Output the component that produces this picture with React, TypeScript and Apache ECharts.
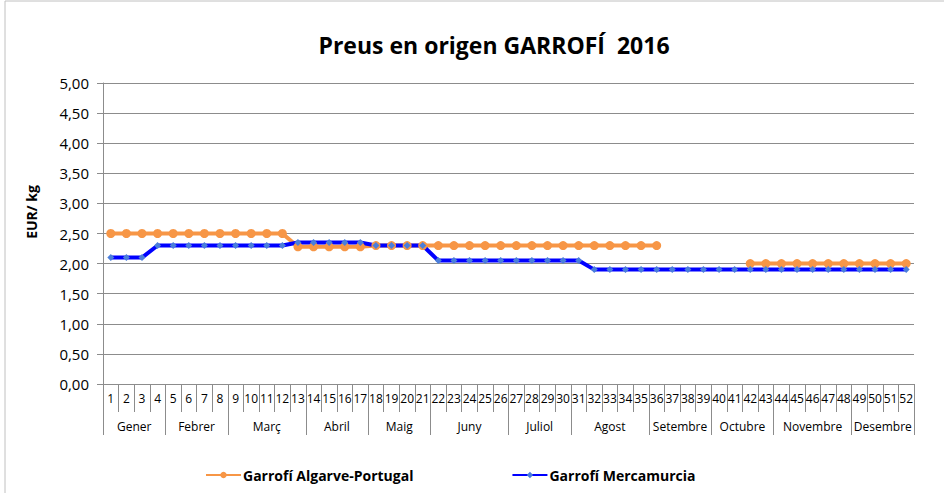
import React, { useEffect, useRef } from "react";
import * as echarts from "echarts";

const weeks = ["1","2","3","4","5","6","7","8","9","10","11","12","13","14","15","16","17","18","19","20","21","22","23","24","25","26","27","28","29","30","31","32","33","34","35","36","37","38","39","40","41","42","43","44","45","46","47","48","49","50","51","52"];
const months = ["Gener","Febrer","Març","Abril","Maig","Juny","Juliol","Agost","Setembre","Octubre","Novembre","Desembre"];
const monthWeekCounts = [4,4,5,4,4,5,4,5,4,4,5,4];
const yTicks = [0,0.5,1,1.5,2,2.5,3,3.5,4,4.5,5];

const algarve: (number | null)[] = [
  2.5,2.5,2.5,2.5,2.5,2.5,2.5,2.5,2.5,2.5,2.5,2.5,
  2.28,2.28,2.28,2.28,2.28,
  2.3,2.3,2.3,2.3,2.3,2.3,2.3,2.3,2.3,2.3,2.3,2.3,2.3,2.3,2.3,2.3,2.3,2.3,2.3,
  null,null,null,null,null,
  2.0,2.0,2.0,2.0,2.0,2.0,2.0,2.0,2.0,2.0,2.0,
];
const mercamurcia: number[] = [
  2.1,2.1,2.1,
  2.3,2.3,2.3,2.3,2.3,2.3,2.3,2.3,2.3,
  2.35,2.35,2.35,2.35,2.35,
  2.3,2.3,2.3,2.3,
  2.05,2.05,2.05,2.05,2.05,2.05,2.05,2.05,2.05,2.05,
  1.9,1.9,1.9,1.9,1.9,1.9,1.9,1.9,1.9,1.9,1.9,1.9,1.9,1.9,1.9,1.9,1.9,1.9,1.9,1.9,1.9,
];

const FONT = "'Open Sans', 'Noto Sans', sans-serif";

export default function App() {
  const ref = useRef<HTMLDivElement>(null);
  useEffect(() => {
    if (!ref.current) return;
    const chart = echarts.init(ref.current, null, { renderer: "svg" });

    const boundaries: number[] = [0];
    const mids: number[] = [];
    const midName: Record<string, string> = {};
    let acc = 0;
    monthWeekCounts.forEach((c, i) => {
      const m = acc + c / 2;
      mids.push(m);
      midName[String(m)] = months[i];
      acc += c;
      boundaries.push(acc);
    });

    const gray = "#8c8c8c";

    chart.setOption({
      animation: false,
      backgroundColor: "#ffffff",
      title: {
        text: "Preus en origen GARROFÍ  2016",
        left: 489,
        textAlign: "center",
        top: 28,
        textStyle: { fontFamily: FONT, fontSize: 23, fontWeight: "bold", color: "#000" },
      },
      graphic: [
        {
          type: "rect",
          shape: { x: 5, y: 1, width: 1000, height: 1000 },
          style: { fill: "none", stroke: "#c0c0c0", lineWidth: 1 },
          silent: true,
        },
        {
          type: "text",
          x: 31,
          y: 212,
          rotation: Math.PI / 2,
          style: {
            text: "EUR/ kg",
            fontFamily: FONT,
            fontSize: 14,
            fontWeight: "bold",
            fill: "#000",
            align: "center",
            verticalAlign: "middle",
          },
        },
      ],
      legend: {
        left: 200,
        top: 463,
        itemWidth: 35,
        itemHeight: 8,
        itemGap: 98,
        textStyle: { fontFamily: FONT, fontSize: 14, fontWeight: "bold", color: "#000", padding: [0, 0, 0, -3] },
        data: ["Garrofí Algarve-Portugal", "Garrofí Mercamurcia"],
      },
      grid: { left: 103, right: 30, top: 83, bottom: 109, containLabel: false },
      xAxis: [
        {
          type: "category",
          data: weeks,
          boundaryGap: true,
          axisLine: { show: true, lineStyle: { color: gray, width: 1 } },
          axisTick: { show: true, interval: 0, length: 28, lineStyle: { color: gray } },
          axisLabel: { interval: 0, margin: 8, fontFamily: FONT, fontSize: 12, color: "#000" },
          splitLine: { show: false },
        },
        {
          type: "value",
          min: 0,
          max: 52,
          position: "bottom",
          axisLine: { show: false },
          splitLine: { show: false },
          axisTick: {
            show: true,
            customValues: boundaries,
            length: 51,
            lineStyle: { color: gray },
          },
          axisLabel: {
            show: true,
            customValues: mids,
            margin: 36,
            fontFamily: FONT,
            fontSize: 12,
            color: "#000",
            formatter: (v: number) => midName[String(v)] || "",
          },
        },
      ],
      yAxis: {
        type: "value",
        min: 0,
        max: 5,
        interval: 0.5,
        axisLine: { show: true, lineStyle: { color: gray, width: 1 } },
        axisTick: { show: true, length: 6, lineStyle: { color: gray } },
        splitLine: { show: true, lineStyle: { color: gray, width: 1 } },
        axisLabel: {
          margin: 14,
          fontFamily: FONT,
          fontSize: 15,
          color: "#000",
          customValues: yTicks,
          formatter: (v: number) => v.toFixed(2).replace(".", ","),
        },
      },
      series: [
        {
          name: "Garrofí Algarve-Portugal",
          type: "line",
          xAxisIndex: 0,
          data: algarve,
          connectNulls: false,
          symbol: "circle",
          symbolSize: 9,
          showAllSymbol: true,
          lineStyle: { color: "#F79646", width: 4 },
          itemStyle: { color: "#F79646" },
        },
        {
          name: "Garrofí Mercamurcia",
          type: "line",
          xAxisIndex: 0,
          data: mercamurcia,
          symbol: "diamond",
          symbolSize: 7,
          showAllSymbol: true,
          lineStyle: { color: "#0000FF", width: 4 },
          itemStyle: { color: "#4A7EDB" },
        },
      ],
    });
    return () => chart.dispose();
  }, []);
  return (
    <div
      ref={ref}
      style={{ position: "fixed", left: 0, top: 0, width: 944, height: 493, background: "#fff" }}
    />
  );
}
